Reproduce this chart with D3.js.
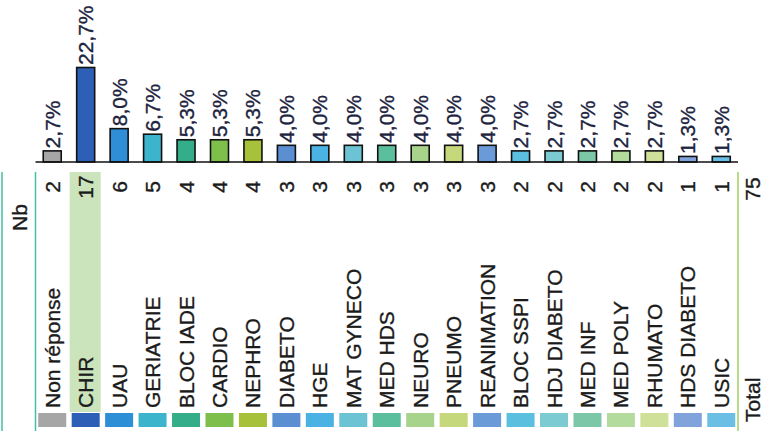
<!DOCTYPE html>
<html>
<head>
<meta charset="utf-8">
<script src="https://cdn.jsdelivr.net/npm/d3@7/dist/d3.min.js"></script>
<style>
html,body{margin:0;padding:0;background:#fff;}
svg{display:block;}
text{font-family:"Liberation Sans",Arial,sans-serif;fill:#1b1b1b;stroke:#1b1b1b;stroke-width:0.35px;}
</style>
</head>
<body>
<svg id="chart" width="765" height="439"></svg>
<script>
const categories = ["Non réponse","CHIR","UAU","GERIATRIE","BLOC IADE","CARDIO","NEPHRO","DIABETO","HGE","MAT GYNECO","MED HDS","NEURO","PNEUMO","REANIMATION","BLOC SSPI","HDJ DIABETO","MED INF","MED POLY","RHUMATO","HDS DIABETO","USIC"];
const counts = [2,17,6,5,4,4,4,3,3,3,3,3,3,3,2,2,2,2,2,1,1];
const pctLabels = ["2,7%","22,7%","8,0%","6,7%","5,3%","5,3%","5,3%","4,0%","4,0%","4,0%","4,0%","4,0%","4,0%","4,0%","2,7%","2,7%","2,7%","2,7%","2,7%","1,3%","1,3%"];
const colors = ["#a6a6a6","#2c5fb5","#2e8ed6","#3cb4cc","#34ae8a","#7dbf4a","#a7c23a","#5b8fd1","#4bb3e3","#6cc3d3","#5bbe9c","#a7d38b","#c5d87b","#6a9bd8","#5bbfe0","#7ccbd3","#7bc7a8","#b3db9c","#cfe098","#80a3dc","#6cbfe4"];
const rowLabel = "Nb";
const totalLabel = "Total";
const totalValue = 75;

const svg = d3.select("#chart");
const x = d3.scaleBand().domain(categories).range([35.5, 738]).paddingInner(0).paddingOuter(0);
const y = d3.scaleLinear().domain([0, 17]).range([162, 67.5]);
const cx = d => x(d) + x.bandwidth() / 2;
const barW = 18, swW = 28;
const fs = 21;
const off = 7.5;

// highlight behind CHIR column in table
svg.append("rect")
  .attr("x", cx("CHIR") - 16).attr("y", 172)
  .attr("width", 31).attr("height", 240)
  .attr("fill", "#cbe4bb");

// table vertical lines
[[2, "#44bfa2"], [35.5, "#44bfa2"], [738, "#9fcf62"]].forEach(([lx, c]) => {
  svg.append("line").attr("x1", lx).attr("x2", lx).attr("y1", 172).attr("y2", 431)
    .attr("stroke", c).attr("stroke-width", 1.5);
});

// bars
svg.selectAll("rect.bar").data(categories).enter().append("rect")
  .attr("class", "bar")
  .attr("x", d => cx(d) - barW / 2)
  .attr("y", (d, i) => y(counts[i]))
  .attr("width", barW)
  .attr("height", (d, i) => y(0) - y(counts[i]))
  .attr("fill", (d, i) => colors[i])
  .attr("stroke", "#111")
  .attr("stroke-width", 1.6);

// baseline
svg.append("line").attr("x1", 35.5).attr("x2", 738).attr("y1", y(0)).attr("y2", y(0))
  .attr("stroke", "#111").attr("stroke-width", 1.3);

// percent labels
svg.selectAll("text.pct").data(categories).enter().append("text")
  .attr("class", "pct")
  .attr("transform", (d, i) => `translate(${cx(d) + off},${y(counts[i]) - 2.5}) rotate(-90)`)
  .attr("text-anchor", "start")
  .attr("font-size", fs)
  .style("fill", "#1d2440")
  .style("stroke", "#1d2440")
  .text((d, i) => pctLabels[i]);

// Nb row
svg.selectAll("text.nb").data(categories).enter().append("text")
  .attr("class", "nb")
  .attr("transform", (d, i) => `translate(${cx(d) + off},187) rotate(-90)`)
  .attr("text-anchor", "middle")
  .attr("font-size", fs)
  .text((d, i) => counts[i]);

svg.append("text")
  .attr("transform", `translate(${19 + off},217.5) rotate(-90)`)
  .attr("text-anchor", "middle")
  .attr("font-size", fs)
  .text(rowLabel);

svg.append("text")
  .attr("transform", `translate(${752 + off},189) rotate(-90)`)
  .attr("text-anchor", "middle")
  .attr("font-size", fs)
  .text(totalValue);

// category labels
svg.selectAll("text.cat").data(categories).enter().append("text")
  .attr("class", "cat")
  .attr("transform", d => `translate(${cx(d) + off},408) rotate(-90)`)
  .attr("text-anchor", "start")
  .attr("font-size", fs)
  .text(d => d);

svg.append("text")
  .attr("transform", `translate(${752 + off},422) rotate(-90)`)
  .attr("text-anchor", "start")
  .attr("font-size", fs)
  .text(totalLabel);

// colour swatches
svg.selectAll("rect.sw").data(categories).enter().append("rect")
  .attr("class", "sw")
  .attr("x", d => cx(d) - swW / 2)
  .attr("y", 413)
  .attr("width", swW)
  .attr("height", 14)
  .attr("fill", (d, i) => colors[i]);
</script>
</body>
</html>
